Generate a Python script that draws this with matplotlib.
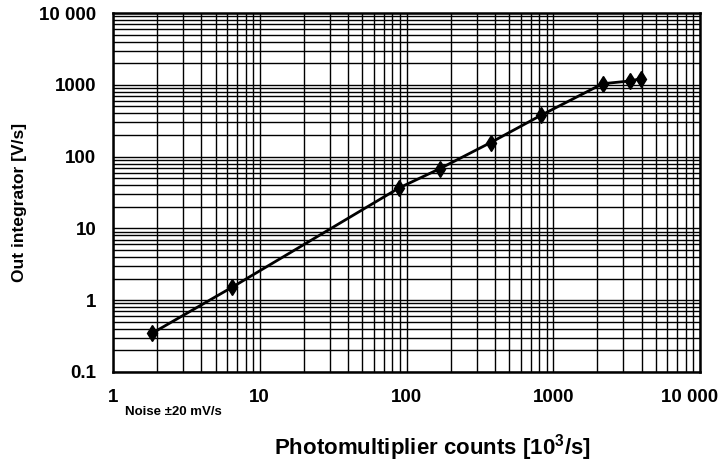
import matplotlib
matplotlib.use("Agg")
import matplotlib.pyplot as plt
import matplotlib.transforms as mtransforms
from matplotlib.ticker import FixedLocator, LogLocator, NullFormatter

counts = [1.84, 6.5, 89, 169, 375, 821, 2170, 3330, 3950]
out_v = [0.345, 1.52, 36.6, 68, 157, 374, 1035, 1130, 1215]

xticks = [1, 10, 100, 1000, 10000]
xtick_labels = ["1", "10", "100", "1000", "10 000"]
yticks = [0.1, 1, 10, 100, 1000, 10000]
ytick_labels = ["0.1", "1", "10", "100", "1000", "10 000"]

plt.rcParams['font.family'] = ['Liberation Sans', 'DejaVu Sans']
plt.rcParams['mathtext.fontset'] = 'custom'
plt.rcParams['mathtext.rm'] = 'Liberation Sans:bold'
plt.rcParams['mathtext.bf'] = 'Liberation Sans:bold'
plt.rcParams['mathtext.it'] = 'Liberation Sans:bold'

fig = plt.figure(figsize=(7.24, 4.63), dpi=100)
ax = fig.add_axes([113/724, 1 - 372/463, (700-113)/724, (372-13)/463])
ax.set_xscale('log')
ax.set_yscale('log')
ax.set_xlim(1, 10000)
ax.set_ylim(0.1, 10000)

ax.xaxis.set_major_locator(FixedLocator(xticks))
ax.yaxis.set_major_locator(FixedLocator(yticks))
ax.xaxis.set_minor_locator(LogLocator(base=10, subs=range(2, 10), numticks=20))
ax.yaxis.set_minor_locator(LogLocator(base=10, subs=range(2, 10), numticks=20))
ax.xaxis.set_minor_formatter(NullFormatter())
ax.yaxis.set_minor_formatter(NullFormatter())
ax.set_xticklabels(xtick_labels, fontsize=13.5, fontweight='bold')
ax.set_yticklabels(ytick_labels, fontsize=13.5, fontweight='bold')
ax.tick_params(which='both', length=0)
ax.tick_params(axis='x', pad=12)
ax.tick_params(axis='y', pad=12)

# shift the last x tick label slightly left so it stays inside the figure
last = ax.get_xticklabels()[-1]
last.set_transform(last.get_transform() +
                   mtransforms.ScaledTranslation(-10/100, 0, fig.dpi_scale_trans))

ax.grid(True, which='both', color='black', linewidth=1.0)
for s in ax.spines.values():
    s.set_linewidth(1.8)
    s.set_color('black')

ax.plot(counts, out_v, color='black', linewidth=2.0, marker='d',
        markersize=8, markerfacecolor='black', markeredgecolor='black', zorder=5)

fig.text(20/724, 1 - 202/463, "Out integrator [V/s]", rotation=90,
         ha='center', va='center', fontsize=12.5, fontweight='bold')
fig.text(432/724, 1 - 448/463, "Photomultiplier counts [10$^{3}$/s]",
         ha='center', va='center', fontsize=16, fontweight='bold')
fig.text(125/724, 1 - 412/463, "Noise \u00b120 mV/s",
         ha='left', va='center', fontsize=9.5, fontweight='bold')

fig.savefig("out.png", dpi=100)
